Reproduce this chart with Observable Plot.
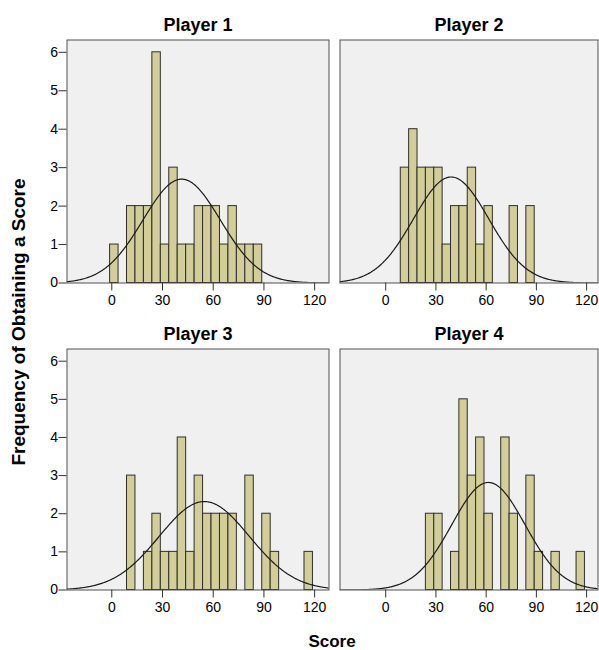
<!DOCTYPE html>
<html><head><meta charset="utf-8">
<script src="https://cdn.jsdelivr.net/npm/d3@7"></script>
<script src="https://cdn.jsdelivr.net/npm/@observablehq/plot@0.6"></script>
<style>
body{margin:0;background:#fff;}
#wrap{position:relative;width:599px;height:650px;overflow:hidden;font-family:"Liberation Sans",Arial,sans-serif;background:#fff;}
#wrap > svg{position:absolute;}
</style></head><body><div id="wrap"></div>
<script>
// Data
const binStarts = [-1,4,9,14,19,24,29,34,39,44,49,54,59,64,69,74,79,84,89,94,99,104,109,114];
const binWidth = 5;
const playerNames = ["Player 1","Player 2","Player 3","Player 4"];
const counts1 = [1,0,2,2,2,6,1,3,1,1,2,2,2,1,2,1,1,1,0,0,0,0,0,0];
const counts2 = [0,0,3,4,3,3,3,1,2,2,3,1,2,0,0,2,0,2,0,0,0,0,0,0];
const counts3 = [0,0,3,0,1,2,1,1,4,1,3,2,2,2,2,0,3,0,2,1,0,0,0,1];
const counts4 = [0,0,0,0,0,2,2,0,1,5,3,4,2,0,4,2,0,3,1,0,1,0,0,1];
const yTicks = [0,1,2,3,4,5,6];
const xTicks = [0,30,60,90,120];
const yTitle = "Frequency of Obtaining a Score";
const xTitle = "Score";

const FONT = "'Liberation Sans', Arial, sans-serif";
const wrap = document.getElementById("wrap");

function panel(name, counts, o) {
  const bins = binStarts.map((x0, i) => ({x0, x1: x0 + binWidth, n: counts[i]})).filter(d => d.n > 0);
  const N = d3.sum(bins, d => d.n);
  const mean = d3.sum(bins, d => d.n * (d.x0 + d.x1) / 2) / N;
  const sd = Math.sqrt(d3.sum(bins, d => d.n * ((d.x0 + d.x1) / 2 - mean) ** 2) / (N - 1));
  const [lo, hi] = o.xDomain;
  const curve = d3.range(lo, hi + 0.5, 0.5).map(x => ({
    x, y: N * binWidth * Math.exp(-0.5 * ((x - mean) / sd) ** 2) / (sd * Math.sqrt(2 * Math.PI))
  }));
  const marks = [
    Plot.frame({fill: "#f0f0f0", stroke: "none"}),
    Plot.rect(bins, {x1: "x0", x2: "x1", y1: 0, y2: "n", fill: "#d3ce97", stroke: "#2e2e2e", strokeWidth: 1}),
    Plot.line(curve, {x: "x", y: "y", stroke: "#1a1a1a", strokeWidth: 1.2, clip: true}),
    Plot.frame({stroke: "#505050", strokeWidth: 1}),
    Plot.axisX(xTicks, {tickSize: 8, tickPadding: 4, label: null, stroke: "#333", fontSize: 14}),
    Plot.text([name], {text: d => d, frameAnchor: "top", lineAnchor: "middle", dy: -15, fontWeight: "bold", fontSize: 18, fill: "#000"})
  ];
  if (o.showY) marks.push(Plot.axisY(yTicks, {tickSize: 8, tickPadding: 1, label: null, stroke: "#333", fontSize: 14}));
  const svg = Plot.plot({
    width: o.width, height: o.height,
    marginLeft: o.ml, marginRight: o.mr, marginTop: o.mt, marginBottom: o.mb,
    x: {domain: o.xDomain},
    y: {domain: [0, 6.32], axis: o.showY ? undefined : null},
    style: {fontFamily: FONT, fontSize: "14px", color: "#000", background: "transparent", overflow: "visible"},
    marks
  });
  svg.style.left = o.left + "px";
  svg.style.top = o.top + "px";
  wrap.appendChild(svg);
}

const leftDomain = [-26.5, 128.5];
const rightDomain = [-27.3, 126.8];
panel(playerNames[0], counts1, {left: 0, top: 0, width: 330, height: 310, ml: 66.5, mr: 1.5, mt: 39.5, mb: 27.5, xDomain: leftDomain, showY: true});
panel(playerNames[1], counts2, {left: 330, top: 0, width: 269, height: 310, ml: 9.5, mr: 1.5, mt: 39.5, mb: 27.5, xDomain: rightDomain, showY: false});
panel(playerNames[2], counts3, {left: 0, top: 310, width: 330, height: 310, ml: 66.5, mr: 1.5, mt: 38.5, mb: 30.5, xDomain: leftDomain, showY: true});
panel(playerNames[3], counts4, {left: 330, top: 310, width: 269, height: 310, ml: 9.5, mr: 1.5, mt: 38.5, mb: 30.5, xDomain: rightDomain, showY: false});

// Shared axis titles
const ns = "http://www.w3.org/2000/svg";
const ov = document.createElementNS(ns, "svg");
ov.setAttribute("width", 599); ov.setAttribute("height", 650);
ov.style.left = "0px"; ov.style.top = "0px"; ov.style.pointerEvents = "none";
const yt = document.createElementNS(ns, "text");
yt.setAttribute("transform", "translate(25,322) rotate(-90)");
yt.setAttribute("text-anchor", "middle");
yt.setAttribute("font-family", FONT); yt.setAttribute("font-weight", "bold"); yt.setAttribute("font-size", "19");
yt.textContent = yTitle;
ov.appendChild(yt);
const xt = document.createElementNS(ns, "text");
xt.setAttribute("x", 332); xt.setAttribute("y", 647);
xt.setAttribute("text-anchor", "middle");
xt.setAttribute("font-family", FONT); xt.setAttribute("font-weight", "bold"); xt.setAttribute("font-size", "17");
xt.textContent = xTitle;
ov.appendChild(xt);
wrap.appendChild(ov);
</script></body></html>
